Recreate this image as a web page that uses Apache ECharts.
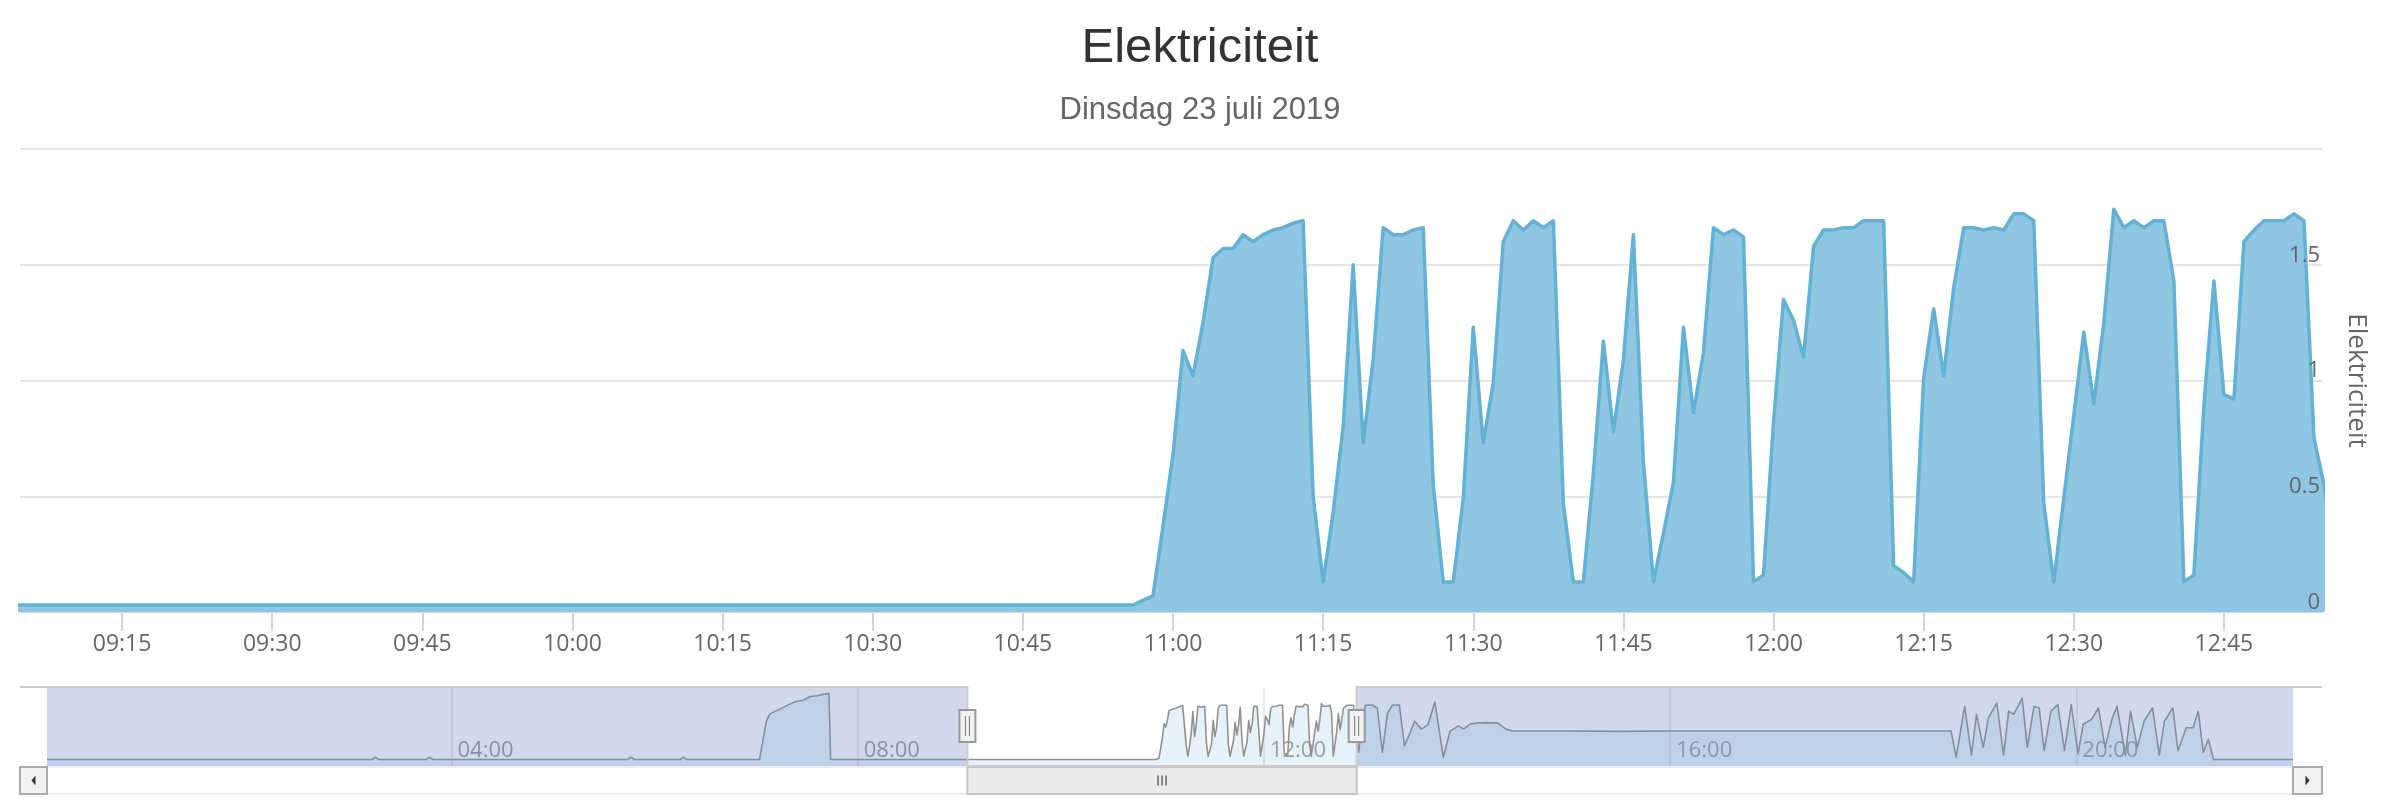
<!DOCTYPE html>
<html><head><meta charset="utf-8">
<script src="https://cdn.jsdelivr.net/npm/echarts@6/dist/echarts.min.js"></script>
<style>html,body{margin:0;padding:0;background:#fff}#c{width:2400px;height:800px}</style>
</head><body><div id="c"></div>
<script>
// ---------------- texts ----------------
const titleText = 'Elektriciteit';
const subtitleText = 'Dinsdag 23 juli 2019';
const yAxisName = 'Elektriciteit';

// ---------------- axes ----------------
const windowStart = '09:04:48';
const windowEnd = '12:54:48';
const mainTickLabels = ['09:15','09:30','09:45','10:00','10:15','10:30','10:45','11:00','11:15','11:30','11:45','12:00','12:15','12:30','12:45'];
const yMin = 0, yMax = 2, yStep = 0.5;
const navTickLabels = ['04:00','08:00','12:00','16:00','20:00'];
const navYMin = -0.17, navYMax = 2.25;

// ---------------- data (kW) ----------------
const earlyTimes  = ['00:01','03:13','03:15','03:17','03:45','03:47','03:49','05:44','05:46','05:48','06:15','06:17','06:19','07:02','07:06','07:08','07:13','07:18','07:23','07:28','07:32','07:36','07:41','07:43','07:44','10:54'];
const earlyValues = [0.03,   0.03,   0.10,   0.03,   0.03,   0.10,   0.03,   0.03,   0.10,   0.03,   0.03,   0.10,   0.03,   0.03,   1.20,   1.42,   1.55,   1.68,   1.80,   1.85,   1.96,   1.98,   2.04,   2.05,   0.03,   0.03];

const minuteStart = '10:55';
const minuteValues = [
  0.03,0.03,0.05,0.07,0.37,0.68,1.13,1.02,1.25,1.53,
  1.57,1.57,1.63,1.60,1.63,1.65,1.66,1.68,1.69,0.50,
  0.13,0.43,0.80,1.50,0.73,1.09,1.66,1.63,1.63,1.65,
  1.66,0.55,0.13,0.13,0.49,1.23,0.73,0.99,1.60,1.69,
  1.65,1.69,1.66,1.69,0.47,0.13,0.13,0.60,1.17,0.78,
  1.09,1.63,0.65,0.13,0.34,0.56,1.23,0.86,1.12,1.66,
  1.63,1.65,1.62,0.13,0.16,0.82,1.35,1.26,1.10,1.58,
  1.65,1.65,1.66,1.66,1.69,1.69,1.69,0.20,0.17,0.13,
  1.01,1.31,1.02,1.40,1.66,1.66,1.65,1.66,1.65,1.72,
  1.72,1.69,0.47,0.13,0.49,0.85,1.21,0.90,1.25,1.74,
  1.66,1.69,1.66,1.69,1.69,1.43,0.13,0.16,0.89,1.43,
  0.94,0.92,1.60,1.65,1.69,1.69,1.69,1.72,1.69,0.75,
  0.55
];

const lateTimes  = ['12:56','12:58','13:00','13:04','13:07','13:10','13:13','13:16','13:20','13:23','13:26','13:29','13:33','13:37','13:41','13:46','13:50','13:55','13:58','14:02','14:07','14:12','14:18','14:23','14:27','15:00','15:30','16:00','16:30','17:00','17:30','18:00','18:30','18:46',
  '18:49','18:54','18:58','19:01','19:05','19:08','19:13','19:17','19:20','19:23','19:28','19:31','19:35','19:38','19:41','19:45','19:49','19:53','19:57','20:01','20:04','20:09','20:13','20:17','20:21','20:24','20:29','20:32','20:36','20:40','20:45','20:49','20:52','20:57','21:00','21:05','21:09','21:12','21:15','21:18','21:21','22:08'];
const lateValues = [0.25,   1.30,   1.69,   1.70,   1.60,   0.25,   1.45,   1.70,   1.70,   0.45,   0.80,   1.20,   0.96,   1.10,   1.79,   0.10,   0.90,   1.06,   0.96,   1.12,   1.15,   1.16,   1.15,   0.96,   0.90,   0.90,   0.89,   0.90,   0.90,   0.90,   0.90,   0.90,   0.90,   0.90,
  0.10,   1.66,   0.16,   1.41,   0.40,   1.30,   1.76,   0.16,   1.51,   1.41,   1.91,   0.40,   1.66,   1.61,   0.30,   1.51,   1.71,   0.30,   1.71,   0.20,   1.10,   1.26,   1.61,   0.40,   1.26,   1.66,   0.16,   1.51,   0.40,   1.20,   1.61,   0.16,   1.20,   1.61,   0.30,   1.00,   1.00,   1.51,   0.25,   0.65,   0.03,   0.03];

// ---------------- helpers ----------------
function ts(hhmm) {
  const p = hhmm.split(':').map(Number);
  return new Date(2019, 6, 23, p[0], p[1], p[2] || 0).getTime();
}
function pad(n) { return (n < 10 ? '0' : '') + n; }
function fmt(v) { const d = new Date(v); return pad(d.getHours()) + ':' + pad(d.getMinutes()); }

const seriesData = [];
earlyTimes.forEach((t, i) => seriesData.push([ts(t), earlyValues[i]]));
const m0 = ts(minuteStart);
minuteValues.forEach((v, i) => seriesData.push([m0 + i * 60000, v]));
lateTimes.forEach((t, i) => seriesData.push([ts(t), lateValues[i]]));

const wS = ts(windowStart), wE = ts(windowEnd);
const dayS = seriesData[0][0], dayE = seriesData[seriesData.length - 1][0];
const mainTickVals = mainTickLabels.map(ts);
const navTickVals = navTickLabels.map(ts);

// ---------------- layout ----------------
const outerL = 20, outerR = 2322;
const mainTop = 149, mainBottom = 612;
const navL = 47, navR = 2293, navTop = 687, navBot = 766;
const sbTop = 767, sbBot = 794;

const labelFont = "'Open Sans', 'DejaVu Sans', sans-serif";

const chart = echarts.init(document.getElementById('c'), null, {renderer: 'canvas'});
const option = {
  animation: false,
  backgroundColor: '#ffffff',
  title: [
    {text: titleText, left: 'center', top: 18,
     textStyle: {fontFamily: "'Liberation Sans', Arial, sans-serif", fontSize: 49, fontWeight: 'normal', color: '#333333', lineHeight: 50}},
    {text: subtitleText, left: 'center', top: 89,
     textStyle: {fontFamily: "'Liberation Sans', Arial, sans-serif", fontSize: 31, fontWeight: 'normal', color: '#666666', lineHeight: 32}}
  ],
  grid: [
    {left: outerL, right: 2400 - outerR, top: mainTop, height: mainBottom - mainTop},
    {left: navL, right: 2400 - navR, top: navTop, height: navBot - navTop}
  ],
  xAxis: [
    {type: 'value', gridIndex: 0, min: wS, max: wE, scale: true,
     axisLine: {show: true, lineStyle: {color: '#ccd6eb', width: 2}},
     axisTick: {show: true, length: 19, lineStyle: {color: '#ccd6eb', width: 2}, customValues: mainTickVals},
     axisLabel: {customValues: mainTickVals, formatter: fmt, color: '#666666', fontSize: 23, fontFamily: labelFont, margin: 21, lineHeight: 23},
     splitLine: {show: false}},
    {type: 'value', gridIndex: 1, min: dayS, max: dayE, scale: true,
     axisLine: {show: false},
     axisTick: {show: false, customValues: navTickVals},
     axisLabel: {customValues: navTickVals, inside: true, formatter: fmt, color: '#999999', fontSize: 22, fontFamily: labelFont,
                 align: 'left', verticalAlign: 'middle', margin: 15, padding: [0, 0, 0, 6]},
     splitLine: {show: true, lineStyle: {color: '#e0e0e0', width: 1.5}}}
  ],
  yAxis: [
    {type: 'value', gridIndex: 0, position: 'right', min: yMin, max: yMax, interval: yStep,
     axisLine: {show: false}, axisTick: {show: false}, axisLabel: {show: false},
     splitLine: {show: true, lineStyle: {color: '#e6e6e6', width: 2}}},
    {type: 'value', gridIndex: 1, min: navYMin, max: navYMax, show: false, splitLine: {show: false}},
    {type: 'value', gridIndex: 0, position: 'right', min: yMin, max: yMax, interval: yStep, z: 10,
     axisLine: {show: false}, axisTick: {show: false}, splitLine: {show: false},
     axisLabel: {inside: true, showMaxLabel: false, color: '#666666', fontSize: 22, fontFamily: labelFont,
                 verticalAlign: 'bottom', lineHeight: 19, margin: 2},
     name: yAxisName, nameLocation: 'middle', nameRotate: -90, nameGap: 21,
     nameTextStyle: {color: '#666666', fontSize: 26, fontFamily: labelFont}}
  ],
  series: [
    {type: 'line', xAxisIndex: 0, yAxisIndex: 0, data: seriesData, symbol: 'none', clip: true, z: 2,
     lineStyle: {color: '#63b2d6', width: 3.5, join: 'round'},
     areaStyle: {color: '#8fc6e2', opacity: 1}},
    {type: 'line', xAxisIndex: 1, yAxisIndex: 1, data: seriesData, symbol: 'none', clip: true,
     lineStyle: {color: '#929292', width: 1.6, join: 'round'},
     areaStyle: {color: 'rgba(143,198,226,0.22)', opacity: 1, origin: 'start'}}
  ]
};
chart.setOption(option);

// navigator mask / handles / scrollbar, positioned through the navigator axis scale
const P = v => chart.convertToPixel({xAxisIndex: 1}, v);
const xa = P(dayS), xb = P(dayE), xs = P(wS), xe = P(wE);
const sbMid = (sbTop + sbBot) / 2;
const navMid = 726;
const mask = 'rgba(102,133,194,0.3)';
function handle(x) {
  return [
    {type: 'rect', z: 70, silent: true, shape: {x: x - 8, y: navMid - 16, width: 16, height: 32},
     style: {fill: '#f2f2f2', stroke: '#999999', lineWidth: 2}},
    {type: 'line', z: 71, silent: true, shape: {x1: x - 2, y1: navMid - 10, x2: x - 2, y2: navMid + 10}, style: {stroke: '#777777', lineWidth: 1}},
    {type: 'line', z: 71, silent: true, shape: {x1: x + 2, y1: navMid - 10, x2: x + 2, y2: navMid + 10}, style: {stroke: '#777777', lineWidth: 1}}
  ];
}
const gx = (xs + xe) / 2;
const graphics = [
  {type: 'rect', z: 50, silent: true, shape: {x: xa, y: navTop, width: xs - xa, height: navBot - navTop}, style: {fill: mask}},
  {type: 'rect', z: 50, silent: true, shape: {x: xe, y: navTop, width: xb - xe, height: navBot - navTop}, style: {fill: mask}},
  {type: 'polyline', z: 60, silent: true,
   shape: {points: [[outerL, navTop], [xs, navTop], [xs, navBot], [xe, navBot], [xe, navTop], [outerR, navTop]]},
   style: {stroke: '#cccccc', lineWidth: 2, fill: null}},
  {type: 'rect', z: 55, silent: true, shape: {x: xa, y: sbTop, width: xb - xa, height: sbBot - sbTop},
   style: {fill: '#ffffff', stroke: '#e6e6e6', lineWidth: 1.5}},
  {type: 'rect', z: 56, silent: true, shape: {x: outerL, y: sbTop, width: xa - outerL, height: sbBot - sbTop},
   style: {fill: '#f2f2f2', stroke: '#aaaaaa', lineWidth: 2}},
  {type: 'rect', z: 56, silent: true, shape: {x: xb, y: sbTop, width: outerR - xb, height: sbBot - sbTop},
   style: {fill: '#f2f2f2', stroke: '#aaaaaa', lineWidth: 2}},
  {type: 'polygon', z: 57, silent: true,
   shape: {points: [[(outerL + xa) / 2 + 2, sbMid - 5], [(outerL + xa) / 2 - 2, sbMid], [(outerL + xa) / 2 + 2, sbMid + 5]]},
   style: {fill: '#333333'}},
  {type: 'polygon', z: 57, silent: true,
   shape: {points: [[(outerR + xb) / 2 - 2, sbMid - 5], [(outerR + xb) / 2 + 2, sbMid], [(outerR + xb) / 2 - 2, sbMid + 5]]},
   style: {fill: '#333333'}},
  {type: 'rect', z: 58, silent: true, shape: {x: xs, y: sbTop, width: xe - xs, height: sbBot - sbTop},
   style: {fill: '#ebebeb', stroke: '#c4c4c4', lineWidth: 2}},
  {type: 'line', z: 59, silent: true, shape: {x1: gx - 4, y1: sbMid - 5, x2: gx - 4, y2: sbMid + 5}, style: {stroke: '#444444', lineWidth: 1.2}},
  {type: 'line', z: 59, silent: true, shape: {x1: gx, y1: sbMid - 5, x2: gx, y2: sbMid + 5}, style: {stroke: '#444444', lineWidth: 1.2}},
  {type: 'line', z: 59, silent: true, shape: {x1: gx + 4, y1: sbMid - 5, x2: gx + 4, y2: sbMid + 5}, style: {stroke: '#444444', lineWidth: 1.2}}
].concat(handle(xs), handle(xe));
chart.setOption({graphic: graphics});
</script>
</body></html>
